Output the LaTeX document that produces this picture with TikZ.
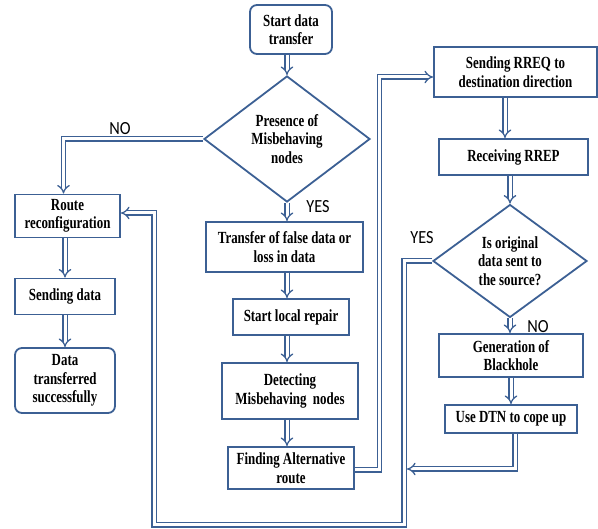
\documentclass[tikz,border=0pt]{standalone}
\usepackage{fontspec}
\setmainfont{Liberation Serif}[FakeStretch=0.76]
\newfontfamily\lblfont{Carlito}[FakeStretch=0.88]
\usetikzlibrary{shapes.geometric,arrows.meta}
\definecolor{fc}{RGB}{60,96,148}
\begin{document}
\begin{tikzpicture}[x=1pt,y=-1pt,
  box/.style={draw=fc, line width=1.8pt, fill=white, inner sep=2pt, align=center,
    font=\fontsize{17}{18.5}\selectfont\bfseries, text=black},
  rbox/.style={box, rounded corners=7pt},
  dia/.style={box, diamond, inner sep=0pt},
  dar/.style={draw=fc, double=white, double distance=3pt, line width=1.3pt, -{Implies[scale=1.3]}},
  lbl/.style={font=\lblfont\fontsize{18.5}{20}\selectfont, text=black, inner sep=0pt}]
\useasboundingbox (0,0) rectangle (598,529);
\node[rbox, minimum width=82pt, minimum height=49pt] (start) at (291,29.5) {Start data\\transfer};
\node[dia, minimum width=166pt, minimum height=126pt] (d1) at (287,139) {Presence of\\Misbehaving\\nodes};
\node[box, minimum width=105pt, minimum height=43pt] (route) at (67.5,216) {Route\\reconfiguration};
\node[box, minimum width=100pt, minimum height=36pt] (send) at (65,296.5) {Sending data};
\node[rbox, minimum width=100pt, minimum height=65pt] (done) at (65,380.5) {Data\\transferred\\successfully};
\node[box, minimum width=157pt, minimum height=50pt] (transfer) at (284.5,247) {Transfer of false data or\\loss in data};
\node[box, minimum width=116pt, minimum height=36pt] (repair) at (291,317) {Start local repair};
\node[box, minimum width=136pt, minimum height=56pt] (detect) at (290,391) {Detecting\\Misbehaving~~nodes};
\node[box, minimum width=126pt, minimum height=42pt] (find) at (291,468) {Finding Alternative\\route};
\node[box, minimum width=163pt, minimum height=50pt] (rreq) at (515.5,72) {Sending RREQ to\\destination direction};
\node[box, minimum width=149pt, minimum height=36pt] (rrep) at (513.5,157) {Receiving RREP};
\node[dia, minimum width=154pt, minimum height=104pt] (d2) at (510,261) {Is original\\data sent to\\the source?};
\node[box, minimum width=144pt, minimum height=43pt] (gen) at (511,355.5) {Generation of\\Blackhole};
\node[box, minimum width=132pt, minimum height=28pt] (dtn) at (511,419) {Use DTN to cope up};
\coordinate (j) at (407,469);

\draw[dar] (d1.north |- start.south) -- (d1.north);
\draw[dar] (d1.west) -| ([xshift=-4pt]route.north);
\draw[dar] (d1.south) -- (d1.south |- transfer.north);
\draw[dar] (transfer.south -| d1.south) -- (repair.north -| d1.south);
\draw[dar] (repair.south -| d1.south) -- (detect.north -| d1.south);
\draw[dar] (detect.south -| d1.south) -- (find.north -| d1.south);
\draw[dar] (find.east |- 0,470) -| (379.5,77) -- (rreq.west |- 0,77);
\draw[dar] (rreq.south -| 505,0) -- (rrep.north -| 505,0);
\draw[dar] (d2.north |- rrep.south) -- (d2.north);
\draw[dar] (d2.south) -- (d2.south |- gen.north);
\draw[dar] (gen.south) -- (dtn.north);
\draw[dar] ([xshift=4pt]dtn.south) |- (j);
\draw[dar] (d2.west) -| (404,525) -| (154,213) -- (route.east |- 0,213);
\draw[dar] (route.south -| 65,0) -- (send.north -| 65,0);
\draw[dar] (send.south) -- (done.north);

\node[lbl] (no1) at (120,129) {NO};
\node[lbl] (yes1) at (318,207) {YES};
\node[lbl] (yes2) at (422,238) {YES};
\node[lbl] (no2) at (538,327) {NO};
\end{tikzpicture}
\end{document}
